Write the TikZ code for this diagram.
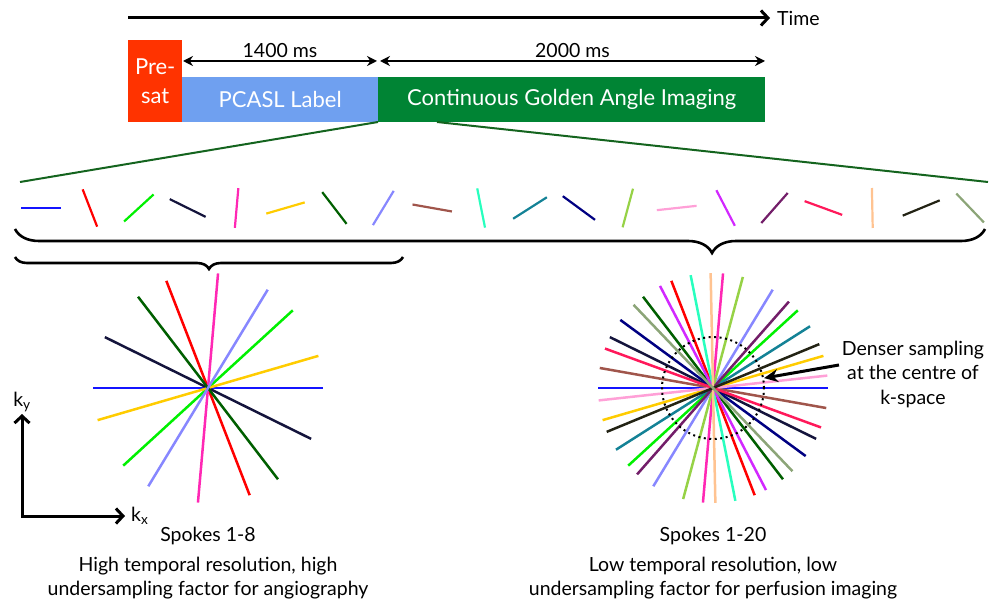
\documentclass[tikz,border=0pt]{standalone}
\usepackage{fontspec}
\setmainfont{Lato}
\usetikzlibrary{arrows.meta}
\usetikzlibrary{decorations.pathreplacing}
\usetikzlibrary{positioning}
\definecolor{presat}{RGB}{255,51,0}
\definecolor{pcasl}{RGB}{111,160,240}
\definecolor{imaging}{RGB}{0,132,52}
\definecolor{zoomgreen}{RGB}{20,100,30}
\definecolor{sp1}{RGB}{20,20,255}
\definecolor{sp2}{RGB}{255,0,0}
\definecolor{sp3}{RGB}{0,240,0}
\definecolor{sp4}{RGB}{20,20,60}
\definecolor{sp5}{RGB}{255,40,180}
\definecolor{sp6}{RGB}{255,204,0}
\definecolor{sp7}{RGB}{0,95,0}
\definecolor{sp8}{RGB}{135,135,255}
\definecolor{sp9}{RGB}{160,85,75}
\definecolor{sp10}{RGB}{40,255,190}
\definecolor{sp11}{RGB}{20,130,150}
\definecolor{sp12}{RGB}{0,0,130}
\definecolor{sp13}{RGB}{150,210,70}
\definecolor{sp14}{RGB}{255,160,215}
\definecolor{sp15}{RGB}{210,40,255}
\definecolor{sp16}{RGB}{115,30,105}
\definecolor{sp17}{RGB}{255,25,90}
\definecolor{sp18}{RGB}{255,195,145}
\definecolor{sp19}{RGB}{35,35,20}
\definecolor{sp20}{RGB}{140,165,120}

\begin{document}
\begin{tikzpicture}[x=1pt,y=1pt,
    txt/.style={font=\fontsize{19.5}{24.5}\selectfont, align=center, inner sep=2pt},
    block/.style={minimum height=45pt, inner sep=0pt, text=white, anchor=south west,
      font=\fontsize{22}{29}\selectfont, align=center},
    dim/.style={line width=2pt, {Stealth[length=10pt,width=10pt]}-{Stealth[length=10pt,width=10pt]}},
    spoke/.style={line width=2.2pt},
    curly/.style={decorate, line width=2.6pt, decoration={brace, mirror, amplitude=#1}},
  ]
    \useasboundingbox (0,0) rectangle (1008,611);

    % time line
    \coordinate (t0) at (128,593);
    \coordinate (t1) at (770,593);
    \draw[line width=3pt, -{Straight Barb[length=7pt,width=15pt]}] (t0) -- (t1);
    \node[txt, right=5pt of t1] (time) {Time};

    % sequence blocks
    \node[block, fill=presat, minimum width=54pt, minimum height=82pt] (presat) at (128,489) {Pre-\\sat};
    \node[block, fill=pcasl, minimum width=196pt] (label) at (182,489) {PCASL Label};
    \node[block, fill=imaging, minimum width=387pt] (imaging) at (378,489) {Continuous Golden Angle Imaging};

    \coordinate (d0) at (183,550);
    \coordinate (d1) at (377,550);
    \coordinate (d2) at (380,550);
    \coordinate (d3) at (765,550);
    \draw[dim] (d0) -- node[txt, above] (ms1) {1400 ms} (d1);
    \draw[dim] (d2) -- node[txt, above] (ms2) {2000 ms} (d3);

    % zoom onto the readout
    \coordinate (zl) at (20,429);
    \coordinate (zr) at (988,429);
    \draw[zoomgreen, line width=2pt] (imaging.south west) -- (zl);
    \draw[zoomgreen, line width=2pt] ([xshift=59pt]imaging.south west) -- (zr);

    % the spokes one after another
    \foreach \i in {1,...,20} {
      \pgfmathsetmacro{\ang}{(\i-1)*111.246}
      \draw[spoke, sp\i] ({41+48.9*(\i-1)},403) ++(\ang:-20) -- ++(\ang:40);
    }

    % braces
    \coordinate (b0) at (15,382);
    \coordinate (b1) at (985,382);
    \coordinate (c0) at (15,354);
    \coordinate (c1) at (403,354);
    \draw[curly=24pt, decoration={aspect=0.7186}] (b0) -- (b1);
    \draw[curly=12pt] (c0) -- (c1);

    % k-space, spokes 1-8
    \coordinate (lc) at (208,223);
    \foreach \i in {1,...,8} {
      \pgfmathsetmacro{\ang}{(\i-1)*111.246}
      \draw[spoke, line width=2.5pt, sp\i] (lc) ++(\ang:-115) -- ++(\ang:230);
    }

    % k-space, spokes 1-20
    \coordinate (rc) at (713,223);
    \foreach \i in {1,...,20} {
      \pgfmathsetmacro{\ang}{(\i-1)*111.246}
      \draw[spoke, line width=2.5pt, sp\i] (rc) ++(\ang:-115) -- ++(\ang:230);
    }
    \draw[line width=2pt, dash pattern=on 2pt off 3.5pt] (rc) circle (51);

    \node[txt] (dense) at (913,237) {Denser sampling\\at the centre of\\k-space};
    \coordinate (dtail) at (839,246);
    \draw[line width=3pt, -{Stealth[length=14pt,width=13pt]}] (dtail) -- ([shift={(11:52)}]rc);

    % axes
    \coordinate (o) at (22,95);
    \coordinate (ky) at (22,197);
    \coordinate (kx) at (125,95);
    \draw[line width=3pt, {Straight Barb[length=7pt,width=15pt]}-{Straight Barb[length=7pt,width=15pt]}] (ky) -- (o) -- (kx);
    \node[txt, above=0pt of ky] (kylab) {k\textsubscript{y}};
    \node[txt, right=4pt of kx] (kxlab) {k\textsubscript{x}};

    % captions
    \node[txt] (cap1) at (208,75) {Spokes 1-8};
    \node[txt] (desc1) at (208,33) {High temporal resolution, high\\undersampling factor for angiography};
    \node[txt] (cap2) at (713,75) {Spokes 1-20};
    \node[txt] (desc2) at (713,33) {Low temporal resolution, low\\undersampling factor for perfusion imaging};
\end{tikzpicture}
\end{document}
